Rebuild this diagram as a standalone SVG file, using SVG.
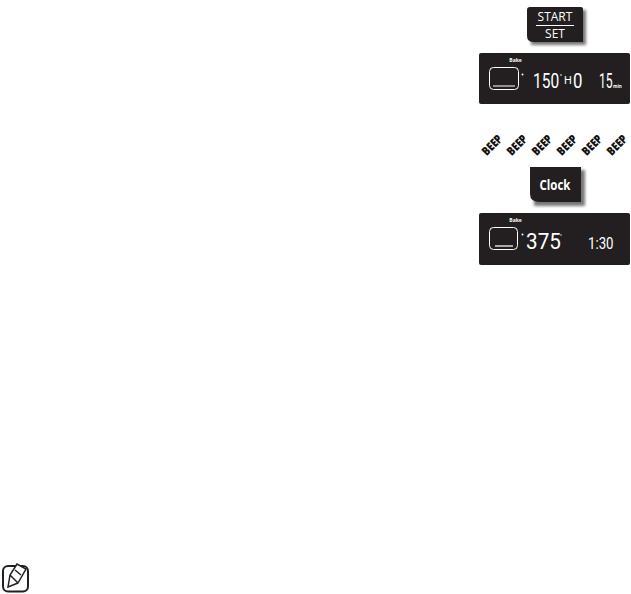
<svg xmlns="http://www.w3.org/2000/svg" width="631" height="594" viewBox="0 0 631 594">
<defs>
<style>
.t{font-family:"Open Sans","Liberation Sans",sans-serif}
.panel{fill:#231f20}
.seg{font-family:Roboto,"Liberation Sans",sans-serif;fill:#fff;font-weight:400}
.lab{font-family:"Open Sans","Liberation Sans",sans-serif;fill:#fff;font-weight:700;font-size:5px}
.beep{font-family:"Open Sans","Liberation Sans",sans-serif;font-weight:800;font-size:12px;fill:#111;text-anchor:middle}
.oven{fill:none;stroke:#fff;stroke-width:1}
</style>
<filter id="sh" x="-20%" y="-20%" width="140%" height="140%"><feGaussianBlur stdDeviation="1.8"/></filter>
</defs>
<rect width="631" height="594" fill="#fff"/>
<g id="start-set">
<path d="M531 10H586V45H531Z" fill="#777" filter="url(#sh)"/>
<path d="M530 7H581Q583 7 583 9V42H534Q527 42 527 36V10Q527 7 530 7Z" class="panel"/>
<text x="555" y="21" text-anchor="middle" class="t" font-size="12" fill="#fff">START</text>
<rect x="536" y="25" width="38" height="1" fill="#fff"/>
<text x="555" y="38" text-anchor="middle" class="t" font-size="12" fill="#fff">SET</text>
</g>
<g id="display-1">
<rect x="479" y="53" width="151" height="51" rx="2" class="panel"/>
<text x="515.500" y="61.500" text-anchor="middle" class="lab">Bake</text>
<rect x="489.500" y="67.500" width="29" height="22" rx="4" class="oven"/>
<rect x="493" y="85.500" width="22" height="1" fill="#fff"/>
<circle cx="522.500" cy="74.500" r="1" fill="#fff"/>
<text transform="translate(533 88) scale(.74 1)" class="seg" font-size="21">150</text>
<circle cx="561" cy="75" r="0.800" fill="#fff"/>
<text transform="translate(564 84) scale(1 1)" class="seg" font-size="11">H</text>
<text transform="translate(573 88) scale(.8 1)" class="seg" font-size="21">0</text>
<text transform="translate(599 88) scale(.58 1)" class="seg" font-size="21">15</text>
<text x="613" y="88" class="lab" style="font-size:4.500px">min</text>
</g>
<g id="beeps">
<text class="beep" transform="translate(495 148) rotate(-45) scale(.8 1)">BEEP</text>
<text class="beep" transform="translate(520 148) rotate(-45) scale(.8 1)">BEEP</text>
<text class="beep" transform="translate(545 148) rotate(-45) scale(.8 1)">BEEP</text>
<text class="beep" transform="translate(570 148) rotate(-45) scale(.8 1)">BEEP</text>
<text class="beep" transform="translate(595 148) rotate(-45) scale(.8 1)">BEEP</text>
<text class="beep" transform="translate(620 148) rotate(-45) scale(.8 1)">BEEP</text>
</g>
<g id="clock">
<path d="M534 170H585V206H534Z" fill="#777" filter="url(#sh)"/>
<path d="M530 167H581V202H540Q530 202 530 194Z" class="panel"/>
<text transform="translate(555 189.500) scale(.82 1)" text-anchor="middle" class="t" font-size="14" font-weight="700" fill="#fff">Clock</text>
</g>
<g id="display-2">
<rect x="479" y="213" width="151" height="52" rx="2" class="panel"/>
<text x="515.500" y="221.500" text-anchor="middle" class="lab">Bake</text>
<rect x="489.500" y="227.500" width="28" height="22" rx="4" class="oven"/>
<rect x="495" y="245" width="18" height="2" fill="#aaa"/>
<circle cx="522.500" cy="234.500" r="1" fill="#fff"/>
<text transform="translate(526 249) scale(.92 1)" class="seg" font-size="22.500">375</text>
<circle cx="561" cy="235" r="0.700" fill="#fff"/>
<text transform="translate(588 249) scale(.78 1)" class="seg" font-size="17">1:30</text>
</g>
<g id="note-icon" fill="none" stroke="#231f20">
<rect x="3" y="566" width="25" height="25.500" rx="5" stroke-width="2"/>
<path d="M8 587L10 575L17 564L26 569L18 583ZM8 587L18 583M10 575L18 583M15 570L21 575" stroke-width="1.500" fill="#fff"/>
</g>
</svg>
